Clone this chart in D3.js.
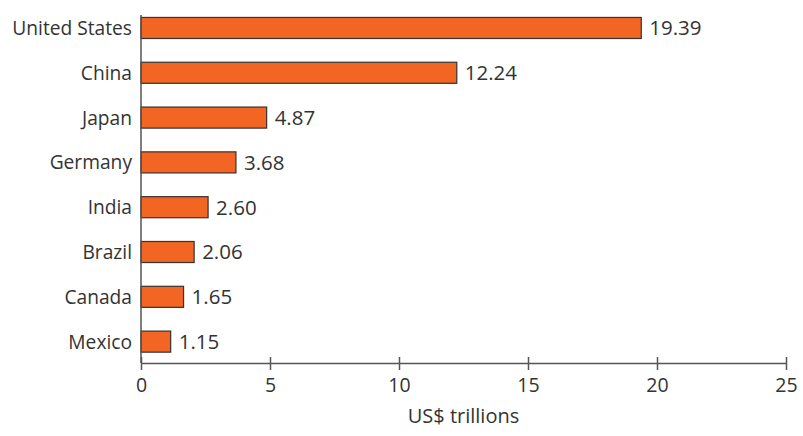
<!DOCTYPE html>
<html>
<head>
<meta charset="utf-8">
<script src="https://cdn.jsdelivr.net/npm/d3@7"></script>
<style>
  html, body { margin: 0; padding: 0; background: #fff; }
  svg text { font-family: "Open Sans", "Lato", sans-serif; fill: #333; }
</style>
</head>
<body>
<svg id="chart" width="803" height="436"></svg>
<script>
// GDP by country, US$ trillions
const countries = ["United States", "China", "Japan", "Germany", "India", "Brazil", "Canada", "Mexico"];
const gdp = [19.39, 12.24, 4.87, 3.68, 2.60, 2.06, 1.65, 1.15];
const xTicks = [0, 5, 10, 15, 20, 25];
const xTitle = "US$ trillions";

const svg = d3.select("#chart");
const left = 141, right = 786, axisY = 363;

const x = d3.scaleLinear().domain([0, 25]).range([left, right]);
const y = d3.scaleBand().domain(countries).range([4, 365.6])
  .paddingInner(0.53).paddingOuter(0.3);

const rows = countries.map((c, i) => ({ name: c, value: gdp[i] }));

// bars
svg.append("g").selectAll("rect").data(rows).join("rect")
  .attr("x", x(0))
  .attr("y", d => y(d.name))
  .attr("width", d => x(d.value) - x(0))
  .attr("height", y.bandwidth())
  .attr("fill", "#F26522")
  .attr("stroke", "#333")
  .attr("stroke-width", 1.2);

// value labels
svg.append("g").selectAll("text").data(rows).join("text")
  .attr("x", d => x(d.value) + 8)
  .attr("y", d => y(d.name) + y.bandwidth() / 2)
  .attr("dy", "0.36em")
  .attr("font-size", 20.5)
  .text(d => d.value.toFixed(2));

// category labels
svg.append("g").selectAll("text").data(rows).join("text")
  .attr("x", left - 9)
  .attr("y", d => y(d.name) + y.bandwidth() / 2)
  .attr("dy", "0.36em")
  .attr("text-anchor", "end")
  .attr("font-size", 19.2)
  .text(d => d.name);

// vertical axis line
svg.append("line")
  .attr("x1", left).attr("x2", left)
  .attr("y1", 15).attr("y2", axisY)
  .attr("stroke", "#555").attr("stroke-width", 1.5);

// x axis
const xAxis = d3.axisBottom(x).tickValues(xTicks).tickSize(0).tickPadding(0).tickFormat(d3.format("d"));
const gx = svg.append("g").attr("transform", `translate(0,${axisY})`).call(xAxis);
gx.select(".domain").attr("stroke", "#555").attr("stroke-width", 1.5);
gx.selectAll(".tick line").attr("y1", -6).attr("y2", 7).attr("stroke", "#555").attr("stroke-width", 1.5);
gx.selectAll(".tick text")
  .attr("y", 22)
  .attr("dy", "0.35em")
  .attr("font-size", 19.5)
  .attr("font-family", "Open Sans, Lato, sans-serif")
  .attr("fill", "#333");

// axis title
svg.append("text")
  .attr("x", (left + right) / 2)
  .attr("y", 423)
  .attr("text-anchor", "middle")
  .attr("font-size", 20)
  .text(xTitle);
</script>
</body>
</html>
